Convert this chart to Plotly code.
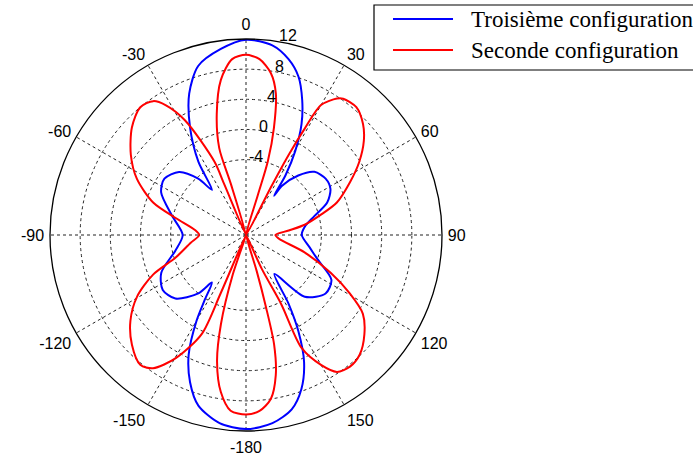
import plotly.graph_objects as go

# Antenna patterns in dB, angle in degrees (0 = top, clockwise)
theta_troisieme = [-180, -172, -164.4, -159.2, -154.4, -150, -147.6, -144.3, -140.8, -132,
                   -123.4, -114, -102.5, -90, -75.6, -63.3, -55.4, -46.7, -40.3, -37,
                   -33, -27.5, -21.9, -15.8, -7.7, 0, 7.9, 13.6, 18.3, 22.6,
                   26.6, 30.4, 33.5, 35.6, 36.2, 41.3, 47.3, 54.7, 61.4, 68.2,
                   74.6, 81.8, 90, 101, 108.7, 117.7, 126.3, 136.4, 144, 148.2,
                   151.4, 155.4, 160.2, 165.3, 172, 180]
r_troisieme = [11.75, 11.2, 9.5, 6.9, 3.6, -0.9, -3.75, -6.25, -4.0, -1.4,
               -0.77, -1.7, -4.4, -5.6, -3.9, -1.4, -0.85, -1.8, -4.2, -6.5,
               -2.4, 2.07, 6.2, 9.3, 10.9, 11.9, 11.4, 10.0, 8.15, 5.4,
               2.45, -1.1, -4.5, -7.6, -5.9, -3.5, -1.65, -1.06, -1.24, -2.4,
               -4.6, -6.1, -6.6, -5.4, -4.0, -1.2, -0.9, -2.7, -7.6, -3.3,
               0.5, 4.5, 7.7, 9.9, 11.2, 11.75]

theta_seconde = [-180, -175, -170.9, -167.1, -164.3, -161.5, -159, -156.5, -155.9, -150.3,
                 -145.1, -140.8, -133.9, -126.6, -119.5, -113.1, -107.8, -98, -90, -84.3,
                 -76.4, -70.7, -62.7, -55.2, -46.7, -39.6, -34.7, -31.7, -28, -23.3,
                 -23.2, -20, -16.5, -17.1, -13.6, -9.2, -4.5, 0, 4.4, 8.7,
                 11.9, 14.6, 16.5, 16.5, 21, 27.5, 28, 28.9, 30, 33.7,
                 35.5, 40.8, 46.5, 51.4, 57.1, 63, 70.3, 74.8, 80.1, 84,
                 90, 96.5, 106.5, 114.1, 119.4, 124, 130, 136.5, 141.7, 146.4,
                 150, 153.8, 153, 155, 158, 163.5, 164.5, 165.6, 168, 171.4,
                 175.6, 180]
r_seconde = [9.8, 9.4, 7.1, 3.2, -1.7, -8.5, -14, -5.5, 0.4, 4.8,
             7.55, 8.2, 7.0, 5.1, 2.6, -0.6, -4.2, -6.6, -7.8, -7.2,
             -4.4, -0.95, 2.3, 4.6, 6.8, 8.0, 7.6, 6.2, 3.2, -3.4,
             -6.7, -14, -7, -1.9, 2.5, 6.85, 9.4, 9.9, 9.4, 7.75,
             5.2, 0.7, -3.8, -8.5, -14, -7, -2.0, 2.2, 5.9, 7.75,
             8.2, 8.4, 7.4, 6.0, 3.9, 1.5, -1.2, -3.7, -6.1, -8.3,
             -10.1, -9.6, -5.9, -1.7, 1.8, 4.7, 6.5, 7.9, 8.25, 7.8,
             5.9, 2.7, -3.7, -9, -14, -9, -4.1, 1.0, 5.0, 8.0,
             9.4, 9.8]

r_range = [-14, 12]
radial_ticks = [-4, 0, 4, 8, 12]
angle_ticks = [0, 30, 60, 90, 120, 150, 180, 210, 240, 270, 300, 330]
angle_labels = ['0', '30', '60', '90', '120', '150', '-180', '-150', '-120', '-90', '-60', '-30']

names = ['Troisième configuration', 'Seconde configuration']
colors = ['#0000ff', '#ff0000']

fig = go.Figure()
fig.add_trace(go.Scatterpolar(theta=theta_troisieme, r=r_troisieme, mode='lines',
                              name=names[0], showlegend=False,
                              line=dict(color=colors[0], width=2, shape='spline', smoothing=0.8)))
fig.add_trace(go.Scatterpolar(theta=theta_seconde, r=r_seconde, mode='lines',
                              name=names[1], showlegend=False,
                              line=dict(color=colors[1], width=2, shape='spline', smoothing=0.8)))

W, H = 693, 458
cx, cy, rad = 246, 235, 196

# radial labels, MATLAB style: just outside each ring, along a line near the top
for v in radial_ticks:
    rp = rad * (v - r_range[0]) / (r_range[1] - r_range[0])
    fig.add_annotation(x=(cx + 0.265 * rp - 10) / W, y=1 - (cy - rp - 3) / H,
                       xref='paper', yref='paper', text=str(v), showarrow=False,
                       xanchor='center', yanchor='middle', font=dict(size=16))

# legend box drawn like the MATLAB one, running off the right edge
fig.add_shape(type='rect', xref='paper', yref='paper',
              x0=374 / W, x1=1.02, y0=1 - 70 / H, y1=1 - 5 / H,
              line=dict(color='black', width=1.2), fillcolor='white', layer='above')
for i, (nm, col) in enumerate(zip(names, colors)):
    yy = 1 - (19 + 31 * i) / H
    fig.add_shape(type='line', xref='paper', yref='paper',
                  x0=393 / W, x1=453 / W, y0=yy, y1=yy,
                  line=dict(color=col, width=2), layer='above')
    fig.add_annotation(x=469 / W, y=yy, xref='paper', yref='paper', text=nm,
                       showarrow=False, xanchor='left', yanchor='middle',
                       font=dict(family='Liberation Serif, Times New Roman', size=23))

fig.update_layout(
    width=W, height=H,
    margin=dict(l=0, r=0, t=0, b=0),
    paper_bgcolor='white',
    font=dict(family='Liberation Sans, Arial', size=16, color='black'),
    polar=dict(
        domain=dict(x=[(cx - rad) / W, (cx + rad) / W],
                    y=[1 - (cy + rad) / H, 1 - (cy - rad) / H]),
        bgcolor='white',
        angularaxis=dict(rotation=90, direction='clockwise',
                         tickmode='array', tickvals=angle_ticks, ticktext=angle_labels,
                         showline=True, linecolor='black', linewidth=1.3,
                         gridcolor='#222222', griddash='3px,3px', gridwidth=1,
                         ticks='outside', ticklen=2, tickcolor='rgba(0,0,0,0)',
                         tickfont=dict(size=16)),
        radialaxis=dict(range=r_range, tickmode='array', tickvals=radial_ticks,
                        showline=False, showticklabels=False, ticks='',
                        gridcolor='#222222', griddash='3px,3px', gridwidth=1),
    ),
)

fig.write_html("out.html", config={'displayModeBar': False},
               post_script="document.body.style.margin = '0';")
